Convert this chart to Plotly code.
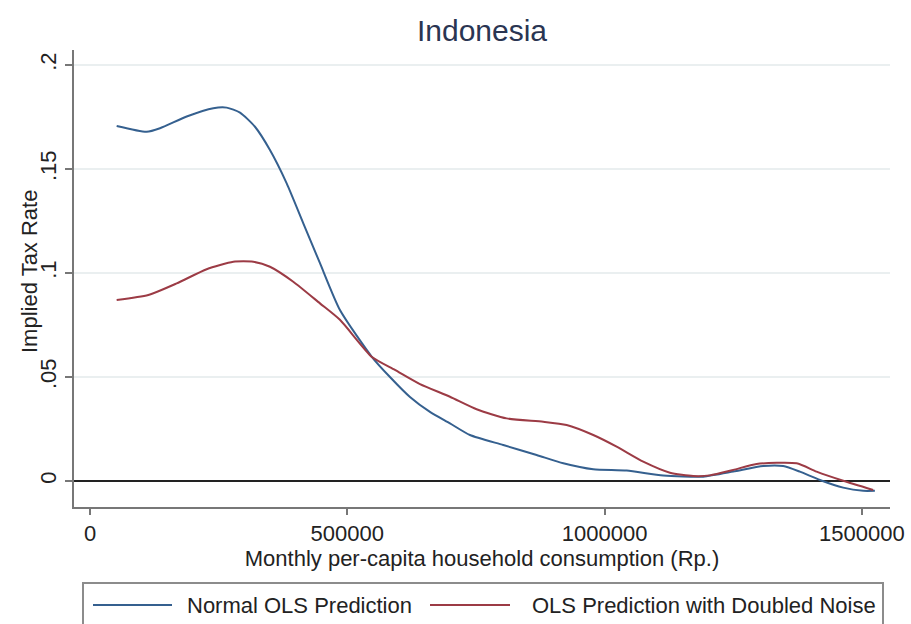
import plotly.graph_objects as go

# Monthly per-capita household consumption (Rp.)
consumption_normal = [51800, 110100, 136000, 187900, 239600, 265600, 291500, 320600,
                      349700, 382200, 414500, 446900, 485700, 548000, 582900, 621800,
                      660600, 699500, 738300, 803100, 867900, 919700, 978000, 1042800,
                      1113900, 1191600, 1250000, 1308200, 1347000, 1379500, 1418400,
                      1463700, 1502500, 1525200]
rate_normal = [0.1707, 0.1679, 0.1696, 0.1752, 0.1792, 0.1795, 0.1771, 0.1703,
               0.1591, 0.1431, 0.1239, 0.1047, 0.0822, 0.0596, 0.0500, 0.0404,
               0.0332, 0.0277, 0.0221, 0.0173, 0.0125, 0.0085, 0.0056, 0.0050,
               0.0026, 0.0021, 0.0045, 0.0072, 0.0072, 0.0045, 0.0005,
               -0.0032, -0.0047, -0.0047]

consumption_noise = [51800, 113300, 168500, 226700, 278500, 317400, 349700, 395000,
                     446900, 485700, 548000, 592600, 641200, 699500, 751300, 809600,
                     880700, 926200, 978000, 1023400, 1075100, 1127000, 1172200,
                     1204700, 1250000, 1295400, 1373100, 1411900, 1463700, 1521900]
rate_noise = [0.0870, 0.0894, 0.0950, 0.1018, 0.1054, 0.1054, 0.1030, 0.0958,
              0.0854, 0.0775, 0.0596, 0.0534, 0.0466, 0.0405, 0.0345, 0.0301,
              0.0285, 0.0269, 0.0221, 0.0165, 0.0093, 0.0040, 0.0024,
              0.0027, 0.0053, 0.0082, 0.0085, 0.0045, 0.0001, -0.0043]

x_tick_values = [0, 500000, 1000000, 1500000]
x_tick_labels = ["0", "500000", "1000000", "1500000"]
y_tick_values = [0, 0.05, 0.1, 0.15, 0.2]
y_tick_labels = ["0", ".05", ".1", ".15", ".2"]

series_names = ["Normal OLS Prediction", "OLS Prediction with Doubled Noise"]
series_colors = ["#35608f", "#9c3b45"]

FONT = "Liberation Sans, Arial, sans-serif"
W, H = 911, 624
M_L, M_R, M_T, M_B = 74, 21, 50, 117
PW, PH = W - M_L - M_R, H - M_T - M_B


def px_to_paper_x(px):
    return (px - M_L) / PW


def px_to_paper_y(py):
    return (H - M_B - py) / PH


fig = go.Figure()
for xs, ys, name, color in [(consumption_normal, rate_normal, series_names[0], series_colors[0]),
                            (consumption_noise, rate_noise, series_names[1], series_colors[1])]:
    fig.add_trace(go.Scatter(
        x=xs, y=ys, name=name, mode="lines",
        line=dict(color=color, width=2, shape="spline", smoothing=0.6),
        showlegend=False,
    ))

fig.update_layout(
    width=W, height=H,
    margin=dict(l=M_L, r=M_R, t=M_T, b=M_B, autoexpand=False),
    paper_bgcolor="white", plot_bgcolor="white",
    font=dict(family=FONT, size=22, color="#222222"),
    title=dict(text="Indonesia", x=px_to_paper_x(482) * PW / W + M_L / W,
               xanchor="center", y=1 - 30 / H, yanchor="middle",
               font=dict(size=30, color="#2a3552")),
)

fig.update_xaxes(
    range=[-31090, 1554600],
    tickvals=x_tick_values, ticktext=x_tick_labels,
    ticks="outside", ticklen=6, tickwidth=1.5, tickcolor="#777777",
    showline=True, linecolor="#777777", linewidth=1.5,
    showgrid=False, zeroline=False,
    tickfont=dict(size=22, color="#222222"),
    title=dict(text="Monthly per-capita household consumption (Rp.)",
               font=dict(size=22, color="#222222"), standoff=4),
)
fig.update_yaxes(
    range=[-0.0125, 0.2072],
    tickvals=y_tick_values, ticktext=y_tick_labels, tickangle=-90,
    ticks="outside", ticklen=7, tickwidth=1.5, tickcolor="#777777",
    showline=True, linecolor="#777777", linewidth=1.5,
    showgrid=True, gridcolor="#eaeff0", gridwidth=1.5,
    zeroline=True, zerolinecolor="#222222", zerolinewidth=2,
    tickfont=dict(size=22, color="#222222"),
)

# y-axis title, overlapping the rotated tick labels as in Stata output
fig.add_annotation(
    text="Implied Tax Rate", textangle=-90,
    xref="paper", yref="paper",
    x=px_to_paper_x(29), y=px_to_paper_y(272),
    xanchor="center", yanchor="middle", showarrow=False,
    font=dict(size=22, color="#222222"),
)

# legend box below the plot
fig.add_shape(type="rect", xref="paper", yref="paper",
              x0=px_to_paper_x(83), x1=px_to_paper_x(883),
              y0=px_to_paper_y(583), y1=px_to_paper_y(640),
              line=dict(color="#8c8c8c", width=2), fillcolor="rgba(0,0,0,0)")
legend_items = [(93, 172, 185), (430, 510, 530)]
for (lx0, lx1, tx), name, color in zip(legend_items, series_names, series_colors):
    fig.add_shape(type="line", xref="paper", yref="paper",
                  x0=px_to_paper_x(lx0), x1=px_to_paper_x(lx1),
                  y0=px_to_paper_y(605), y1=px_to_paper_y(605),
                  line=dict(color=color, width=2))
    fig.add_annotation(text=name, xref="paper", yref="paper",
                       x=px_to_paper_x(tx), y=px_to_paper_y(605),
                       xanchor="left", yanchor="middle", showarrow=False,
                       font=dict(size=22, color="#222222"))

fig.write_html("out.html")
